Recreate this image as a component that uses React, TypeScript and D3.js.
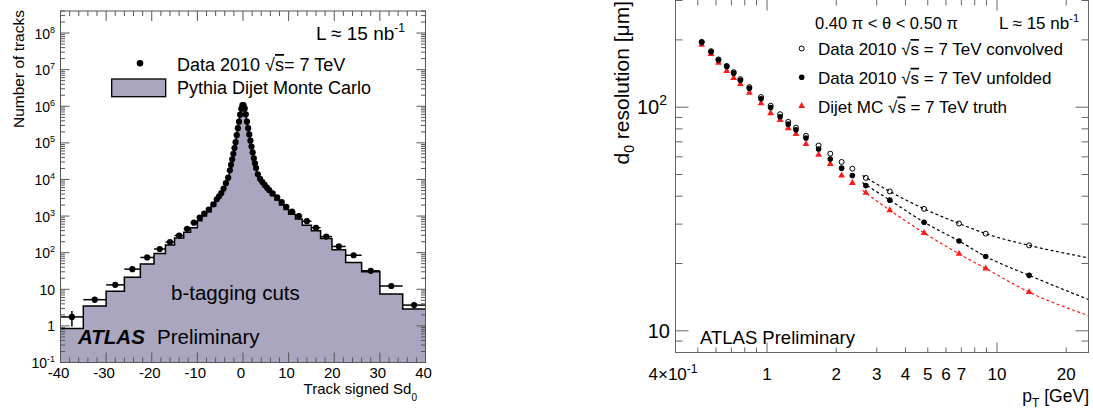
import * as d3 from "d3";

const FONT = "'Liberation Sans', Arial, Helvetica, sans-serif";

// ---- left panel: track signed Sd0, b-tagging cuts ----
const sdEdges = [
  -40, -35, -30, -26, -22.5, -19.5, -17, -15, -13, -11.5, -10, -9, -8, -7, -6,
  -5.5, -5, -4.5, -4, -3.5, -3, -2.75, -2.5, -2.25, -2, -1.75, -1.5, -1.25, -1,
  -0.75, -0.5, -0.25, 0, 0.25, 0.5, 0.75, 1, 1.25, 1.5, 1.75, 2, 2.25, 2.5, 2.75,
  3, 3.5, 4, 4.5, 5, 5.5, 6, 7, 8, 9, 10, 11.5, 13, 15, 17, 19.5, 22.5, 26, 30,
  35, 40,
];
const sdData = [
  1.76, 5.2, 13.2, 35.5, 74, 126, 195, 295, 447, 661, 912, 1175, 1514, 2089,
  2884, 3467, 4266, 5623, 7943, 11220, 17780, 25120, 35480, 50120, 72440,
  104700, 162200, 251200, 380200, 588800, 851100, 1071500,
  1071500, 871000, 602600, 380200, 251200, 169800, 114800, 79430, 54950, 38020,
  27540, 20420, 13800, 10470, 8511, 7079, 6026, 5129, 4169, 3236, 2399, 1778,
  1318, 1000, 724, 479, 275, 148, 85, 32, 12.3, 3.7,
];
const sdMC = [
  0.85, 3.5, 8.9, 21.4, 49, 95, 162, 251, 363, 479, 741, 1000, 1318, 1862,
  2570, 3090, 3802, 5012, 7079, 10000, 16220, 22910, 33110, 46770, 67610,
  100000, 154900, 239900, 371500, 575400, 831800, 1047000,
  1047000, 851100, 588800, 371500, 239900, 162200, 107200, 74130, 51290, 35480,
  25700, 18620, 12300, 9333, 7586, 6310, 5248, 4467, 3631, 2754, 1995, 1514,
  1122, 832, 562, 398, 245, 120, 54, 30, 7.4, 2.9,
];
// relative vertical errors on the data (only visible in the tails)
const sdDataErr = [
  0.45, 0.18, 0.1, 0.06, 0.04, 0, 0, 0, 0, 0, 0, 0, 0, 0, 0, 0,
  0, 0, 0, 0, 0, 0, 0, 0, 0, 0, 0, 0, 0, 0, 0, 0,
  0, 0, 0, 0, 0, 0, 0, 0, 0, 0, 0, 0, 0, 0, 0, 0,
  0, 0, 0, 0, 0, 0, 0, 0, 0, 0, 0, 0, 0.04, 0.07, 0.12, 0.2,
];
const sdXTickLabels = [-40, -30, -20, -10, 0, 10, 20, 30, 40];

// ---- right panel: d0 resolution vs pT ----
const ptCenters = [
  0.52, 0.571, 0.615, 0.668, 0.716, 0.766, 0.838, 0.942, 1.037, 1.14, 1.237,
  1.336, 1.477, 1.676, 1.884, 2.11, 2.35, 2.69, 3.42, 4.82, 6.84, 8.93, 13.8,
];
const d0Convolved = [
  196, 178, 163.5, 153, 143.5, 133.5, 123, 111, 101.5, 93, 86, 81, 74.5, 67.4,
  62, 56.9, 53.1, 48.3, 42, 35.1, 30.2, 27.2, 24.1,
];
const d0Unfolded = [
  195, 177, 162.5, 152, 142, 132, 121.6, 109, 99.6, 90.6, 84, 79.2, 72.8, 65,
  58.6, 53.4, 49.5, 44.6, 38.4, 30.6, 25.2, 21.5, 17.7,
];
const d0Truth = [
  190, 173, 158, 145, 135, 127, 116, 104, 94, 87.7, 80.5, 75.8, 68.4, 61.3,
  55.7, 49.5, 45.8, 41.4, 34.6, 27.4, 22.1, 19.0, 14.9,
];
const fitPt = [2.6, 3.42, 4.82, 6.84, 8.93, 13.8, 25];
const fitConvolved = [49.5, 42, 35.1, 30.2, 27.2, 24.1, 21.2];
const fitUnfolded = [46, 38.4, 30.6, 25.2, 21.5, 17.7, 13.8];
const fitTruth = [42.5, 34.6, 27.4, 22.1, 19.0, 14.9, 11.7];
const ptTickLabels = [1, 2, 3, 4, 5, 6, 7, 10, 20];

const isDecade = (v: number) => Math.abs(Math.log10(v) - Math.round(Math.log10(v))) < 1e-6;

function SqrtS() {
  return (
    <>
      {"\u221A"}
      <tspan style={{ textDecoration: "overline" }}>s</tspan>
    </>
  );
}

function SdPanel() {
  const x = d3.scaleLinear().domain([-40, 40]).range([60.5, 425.5]);
  const y = d3.scaleLog().domain([0.1, 4e8]).range([362.5, 11]);
  const [x0, x1] = x.range();
  const [yb, yt] = y.range();

  const bins = sdData.map((v, i) => ({
    lo: sdEdges[i],
    hi: sdEdges[i + 1],
    data: v,
    mc: sdMC[i],
    err: sdDataErr[i],
  }));
  const steps: [number, number][] = bins.flatMap((b) => [
    [b.lo, b.mc],
    [b.hi, b.mc],
  ]);
  const area = d3
    .area<[number, number]>()
    .x((d) => x(d[0]))
    .y0(yb)
    .y1((d) => y(d[1]));
  const outline = d3
    .line<[number, number]>()
    .x((d) => x(d[0]))
    .y((d) => y(d[1]));

  const yTicks = y.ticks(20);
  const xTicks = d3.range(-40, 41, 2);

  const yLabel = (v: number) => {
    const k = Math.round(Math.log10(v));
    if (k === 0) return <>1</>;
    if (k === 1) return <>10</>;
    return (
      <>
        10
        <tspan fontSize={9} dy={-6}>
          {k}
        </tspan>
      </>
    );
  };

  return (
    <g fontFamily={FONT}>
      <path d={area(steps) ?? ""} fill="#aaa6bf" />
      <path d={outline(steps) ?? ""} fill="none" stroke="#000" strokeWidth={1.5} />

      {bins.map((b, i) => (
        <g key={i} stroke="#000" strokeWidth={1.5}>
          <line x1={x(b.lo)} x2={x(b.hi)} y1={y(b.data)} y2={y(b.data)} />
          {b.err > 0 && (
            <line
              x1={x((b.lo + b.hi) / 2)}
              x2={x((b.lo + b.hi) / 2)}
              y1={y(b.data * (1 - b.err))}
              y2={y(b.data * (1 + b.err))}
            />
          )}
        </g>
      ))}
      {bins.map((b, i) => (
        <circle key={i} cx={x((b.lo + b.hi) / 2)} cy={y(b.data)} r={3.1} fill="#000" />
      ))}

      {/* frame and ticks */}
      <rect x={x0} y={yt} width={x1 - x0} height={yb - yt} fill="none" stroke="#555" strokeWidth={1} />
      <g stroke="#555" strokeWidth={1}>
        {yTicks.map((t, i) => {
          const len = isDecade(t) ? 9 : 4.5;
          return (
            <g key={i}>
              <line x1={x0} x2={x0 + len} y1={y(t)} y2={y(t)} />
              <line x1={x1} x2={x1 - len} y1={y(t)} y2={y(t)} />
            </g>
          );
        })}
        {xTicks.map((t, i) => {
          const len = t % 10 === 0 ? 10 : 5;
          return (
            <g key={i}>
              <line x1={x(t)} x2={x(t)} y1={yb} y2={yb - len} />
              <line x1={x(t)} x2={x(t)} y1={yt} y2={yt + len} />
            </g>
          );
        })}
      </g>

      {yTicks.filter(isDecade).map((t, i) => (
        <text key={i} x={55} y={y(t) + 5.5} fontSize={14} textAnchor="end">
          {yLabel(t)}
        </text>
      ))}
      {sdXTickLabels.map((t) => (
        <text key={t} x={x(t) - 2} y={378} fontSize={15} textAnchor="middle">
          {t}
        </text>
      ))}
      <text x={417} y={394} fontSize={15} textAnchor="end">
        Track signed Sd<tspan fontSize={10} dy={7}>0</tspan>
      </text>
      <text transform="translate(24,10) rotate(-90)" fontSize={15.5} textAnchor="end">
        Number of tracks
      </text>

      <text x={405} y={40} fontSize={19} textAnchor="end">
        L ≈ 15 nb<tspan fontSize={12} dy={-8}>-1</tspan>
      </text>
      <circle cx={140} cy={63.3} r={3.3} fill="#000" />
      <text x={177} y={71} fontSize={18}>
        Data 2010 <SqrtS />= 7 TeV
      </text>
      <rect x={111.7} y={79} width={54} height={17.7} fill="#aaa6bf" stroke="#000" strokeWidth={1.3} />
      <text x={177} y={93.5} fontSize={18}>
        Pythia Dijet Monte Carlo
      </text>

      <text x={171} y={300} fontSize={20.5}>
        b-tagging cuts
      </text>
      <text x={78} y={344} fontSize={20.5}>
        <tspan fontWeight="bold" fontStyle="italic">ATLAS</tspan>
        <tspan x={157}>Preliminary</tspan>
      </text>
    </g>
  );
}

function ResolutionPanel() {
  const x = d3.scaleLog().domain([0.4, 25]).range([675.5, 1088.5]);
  const y = d3.scaleLog().domain([8, 300]).range([352.5, 0.5]);
  const [x0, x1] = x.range();
  const [yb, yt] = y.range();

  const fit = d3
    .line<number>()
    .x((_, i) => x(fitPt[i]))
    .y((d) => y(d))
    .curve(d3.curveMonotoneX);
  const tri = d3.symbol(d3.symbolTriangle, 20)() ?? "";

  const xTicks = x.ticks();
  const yTicks = y.ticks();

  const legendRows = [
    { y: 48.5, label: "convolved", kind: "open" },
    { y: 77.3, label: "unfolded", kind: "filled" },
    { y: 106, label: "truth", kind: "truth" },
  ];

  return (
    <g fontFamily={FONT}>
      <path d={fit(fitConvolved) ?? ""} fill="none" stroke="#000" strokeWidth={1.2} strokeDasharray="3,2.5" />
      <path d={fit(fitUnfolded) ?? ""} fill="none" stroke="#000" strokeWidth={1.2} strokeDasharray="3,2.5" />
      <path d={fit(fitTruth) ?? ""} fill="none" stroke="#ff1a1a" strokeWidth={1.2} strokeDasharray="3,2.5" />

      {ptCenters.map((p, i) => (
        <path key={"t" + i} d={tri} transform={`translate(${x(p)},${y(d0Truth[i])})`} fill="#ff1a1a" />
      ))}
      {ptCenters.map((p, i) => (
        <circle key={"u" + i} cx={x(p)} cy={y(d0Unfolded[i])} r={2.8} fill="#000" />
      ))}
      {ptCenters.map((p, i) => (
        <circle key={"c" + i} cx={x(p)} cy={y(d0Convolved[i])} r={2.5} fill="none" stroke="#000" strokeWidth={1} />
      ))}

      {/* frame: the top edge sits just above the picture */}
      <rect x={x0} y={-1} width={x1 - x0} height={yb + 1} fill="none" stroke="#666" strokeWidth={1} />
      <g stroke="#666" strokeWidth={1}>
        {yTicks.map((t, i) => {
          const len = isDecade(t) ? 13 : 7;
          return (
            <g key={i}>
              <line x1={x0} x2={x0 + len} y1={y(t)} y2={y(t)} />
              <line x1={x1} x2={x1 - len} y1={y(t)} y2={y(t)} />
            </g>
          );
        })}
        {xTicks.map((t, i) => {
          const len = isDecade(t) ? 10 : 5;
          return (
            <g key={i}>
              <line x1={x(t)} x2={x(t)} y1={yb} y2={yb - len} />
              <line x1={x(t)} x2={x(t)} y1={yt - 1} y2={yt + len} />
            </g>
          );
        })}
      </g>

      <text x={667} y={y(100) + 7} fontSize={20} textAnchor="end">
        10<tspan fontSize={14} dy={-9}>2</tspan>
      </text>
      <text x={670} y={y(10) + 7} fontSize={20} textAnchor="end">
        10
      </text>
      <text x={673} y={380} fontSize={17} textAnchor="middle">
        4×10<tspan fontSize={12} dy={-7}>-1</tspan>
      </text>
      {ptTickLabels.map((t) => (
        <text key={t} x={x(t)} y={380} fontSize={17} textAnchor="middle">
          {t}
        </text>
      ))}
      <text x={1089} y={402} fontSize={17.5} textAnchor="end">
        p<tspan fontSize={12} dy={5}>T</tspan>
        <tspan dy={-5}> [GeV]</tspan>
      </text>
      <text transform="translate(629,1) rotate(-90)" fontSize={21} textAnchor="end">
        d<tspan fontSize={14} dy={5}>0</tspan>
        <tspan dy={-5}> resolution [μm]</tspan>
      </text>

      <text x={815} y={28.5} fontSize={16.5}>
        0.40 π &lt; θ &lt; 0.50 π
      </text>
      <text x={1079} y={28.5} fontSize={17} textAnchor="end">
        L ≈ 15 nb<tspan fontSize={11} dy={-7}>-1</tspan>
      </text>

      {legendRows.map((r) => (
        <g key={r.label}>
          {r.kind === "open" && (
            <circle cx={801.7} cy={r.y} r={2.5} fill="none" stroke="#000" strokeWidth={1} />
          )}
          {r.kind === "filled" && <circle cx={801.7} cy={r.y} r={2.8} fill="#000" />}
          {r.kind === "truth" && (
            <path d={tri} transform={`translate(801.7,${r.y})`} fill="#ff1a1a" />
          )}
          <text x={818} y={r.y + 6.5} fontSize={17}>
            {r.kind === "truth" ? "Dijet MC " : "Data 2010 "}
            <SqrtS /> = 7 TeV {r.label}
          </text>
        </g>
      ))}

      <text x={700} y={344} fontSize={18.5}>
        ATLAS Preliminary
      </text>
    </g>
  );
}

export default function App() {
  return (
    <svg
      width={1093}
      height={412}
      style={{ position: "absolute", left: 0, top: 0, background: "#fff" }}
    >
      <SdPanel />
      <ResolutionPanel />
    </svg>
  );
}
